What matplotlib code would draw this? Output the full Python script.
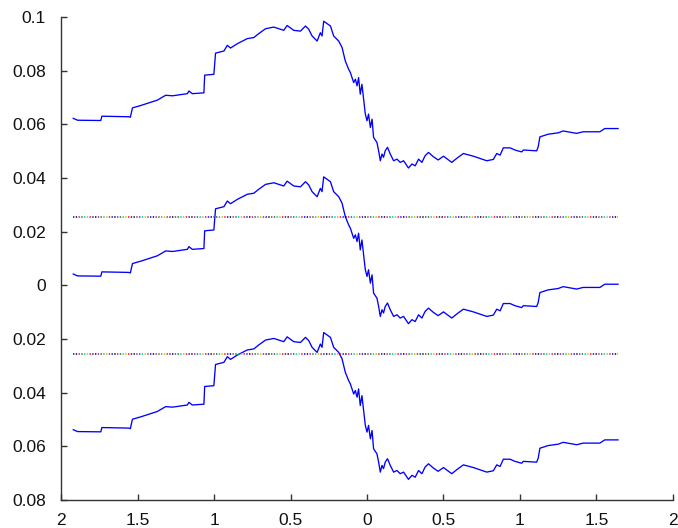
import numpy as np
import matplotlib
matplotlib.use("Agg")
from matplotlib import pyplot as plt

plt.rcParams['font.family'] = ['Liberation Sans', 'DejaVu Sans']

# middle curve (the other two are shifted copies)
x_vals = [-1.920, -1.892, -1.740, -1.733, -1.557, -1.547, -1.533, -1.478, -1.370, -1.316,
          -1.271, -1.174, -1.164, -1.142, -1.066, -1.061, -1.001, -0.990, -0.935, -0.913,
          -0.892, -0.848, -0.783, -0.740, -0.707, -0.663, -0.609, -0.544, -0.522, -0.479,
          -0.435, -0.402, -0.381, -0.359, -0.326, -0.305, -0.294, -0.283, -0.239, -0.218,
          -0.185, -0.163, -0.142, -0.120, -0.109, -0.087, -0.076, -0.065, -0.055, -0.044,
          -0.033, -0.022, -0.011, 0.000, 0.010, 0.022, 0.033, 0.043, 0.065, 0.076,
          0.087, 0.098, 0.108, 0.119, 0.134, 0.152, 0.174, 0.196, 0.217, 0.239,
          0.271, 0.294, 0.315, 0.337, 0.359, 0.380, 0.402, 0.434, 0.465, 0.500,
          0.554, 0.589, 0.630, 0.695, 0.783, 0.826, 0.848, 0.870, 0.891, 0.935,
          0.967, 1.011, 1.022, 1.109, 1.119, 1.130, 1.185, 1.250, 1.282, 1.370,
          1.413, 1.522, 1.554, 1.641]
mid = [0.0042, 0.0035, 0.0034, 0.0050, 0.0048, 0.0046, 0.0081, 0.0090, 0.0110, 0.0128,
       0.0126, 0.0134, 0.0144, 0.0134, 0.0137, 0.0203, 0.0206, 0.0285, 0.0293, 0.0314,
       0.0304, 0.0320, 0.0339, 0.0343, 0.0358, 0.0376, 0.0382, 0.0370, 0.0388, 0.0370,
       0.0367, 0.0386, 0.0374, 0.0349, 0.0330, 0.0361, 0.0349, 0.0404, 0.0386, 0.0349,
       0.0330, 0.0306, 0.0256, 0.0225, 0.0213, 0.0175, 0.0188, 0.0163, 0.0194, 0.0132,
       0.0169, 0.0113, 0.0058, 0.0033, 0.0058, 0.0008, 0.0039, -0.0029, -0.0048, -0.0079,
       -0.0116, -0.0091, -0.0103, -0.0079, -0.0066, -0.0091, -0.0116, -0.0110, -0.0122, -0.0116,
       -0.0143, -0.0128, -0.0135, -0.0110, -0.0122, -0.0097, -0.0085, -0.0101, -0.0113, -0.0099,
       -0.0122, -0.0106, -0.0089, -0.0099, -0.0116, -0.0111, -0.0089, -0.0095, -0.0068, -0.0068,
       -0.0076, -0.0083, -0.0076, -0.0079, -0.0064, -0.0027, -0.0017, -0.0012, -0.0005, -0.0014,
       -0.0008, -0.0008, 0.0004, 0.0004]
shifts = [0.058, 0.0, -0.058]
band = [0.0255, -0.0255]
dot_colors = ['b', 'r', 'y', 'c', 'g', 'm', 'k']

x_ticks = [-2, -1.5, -1, -0.5, 0, 0.5, 1, 1.5, 2]
x_labels = ['2', '1.5', '1', '0.5', '0', '0.5', '1', '1.5', '2']
y_ticks = [-0.08, -0.06, -0.04, -0.02, 0, 0.02, 0.04, 0.06, 0.08, 0.1]
y_labels = ['0.08', '0.06', '0.04', '0.02', '0', '0.02', '0.04', '0.06', '0.08', '0.1']

x = np.array(x_vals)
m = np.array(mid)

fig = plt.figure(figsize=(6.78, 5.28), dpi=100)
ax = fig.add_axes([0.090, 0.053, 0.9026, 0.915])

for s in shifts:
    ax.plot(x, m + s, color='#0000ff', lw=0.95)

# multi-coloured dotted lines
n = len(dot_colors)
gap = 1.8
for yv in band:
    for i, c in enumerate(dot_colors):
        ax.plot([x[0], x[-1]], [yv, yv], color=c, lw=1.1,
                linestyle=(i * gap, (0.9, gap * n - 0.9)))

ax.set_xlim(-2, 2)
ax.set_ylim(-0.08, 0.1)
ax.set_xticks(x_ticks)
ax.set_xticklabels(x_labels)
ax.set_yticks(y_ticks)
ax.set_yticklabels(y_labels)

for side in ['top', 'right']:
    ax.spines[side].set_visible(False)
for side in ['left', 'bottom']:
    ax.spines[side].set_color('#333333')
    ax.spines[side].set_linewidth(1.0)

ax.tick_params(axis='both', direction='in', length=4, width=1, color='#333333',
               labelsize=12.5, labelcolor='#111111')
ax.tick_params(axis='y', pad=11)
ax.tick_params(axis='x', pad=9)

fig.savefig('out.png', dpi=100)
